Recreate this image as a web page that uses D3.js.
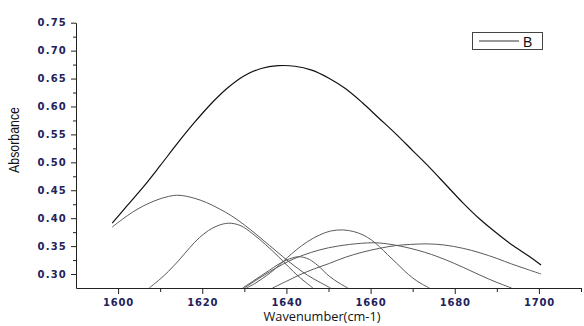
<!DOCTYPE html>
<html><head><meta charset="utf-8">
<script src="https://cdn.jsdelivr.net/npm/d3@7"></script>
<style>html,body{margin:0;padding:0;background:#fff;}svg{display:block;}</style>
</head><body>
<script>
// ---- data ----
const envWn  = [1598.6,1602,1606,1610,1614,1618,1622,1626,1630,1634,1638,1642,1646,1650,1654,1658,1662,1666,1670,1674,1678,1682,1686,1690,1694,1698,1700.5];
const envAbs = [0.391,0.421,0.456,0.494,0.533,0.570,0.604,0.633,0.655,0.668,0.673,0.672,0.665,0.651,0.632,0.607,0.579,0.551,0.521,0.491,0.459,0.427,0.398,0.373,0.350,0.330,0.316];

const c1Wn  = [1598.6,1601,1603.5,1606,1609,1612,1614.5,1618,1621,1624,1627,1630,1633,1636,1639,1642,1645,1648,1650.5];
const c1Abs = [0.384,0.398,0.411,0.422,0.432,0.439,0.441,0.436,0.428,0.417,0.404,0.388,0.370,0.351,0.332,0.314,0.298,0.285,0.275];

const c2Wn  = [1607.4,1610,1612,1614.5,1617,1619.3,1621.5,1623.5,1626.2,1629,1632,1635,1638,1640.5,1643,1646.3];
const c2Abs = [0.275,0.291,0.305,0.325,0.347,0.365,0.378,0.386,0.391,0.387,0.372,0.353,0.332,0.313,0.295,0.275];

const c3Wn  = [1629.6,1632,1634,1636,1638,1640,1641.5,1642.7,1644,1645.5,1647.5,1650.2,1652.5,1654.6];
const c3Abs = [0.275,0.287,0.297,0.307,0.317,0.325,0.329,0.331,0.330,0.326,0.315,0.296,0.284,0.275];

const c4Wn  = [1630.5,1632.5,1634.3,1636.3,1638.3,1640.3,1642.3,1645,1647.9,1650.5,1653.4,1656,1658.2,1660.2,1662.1,1664,1666.1,1668,1670,1672,1674];
const c4Abs = [0.275,0.283,0.292,0.303,0.316,0.330,0.343,0.358,0.370,0.377,0.379,0.376,0.370,0.361,0.349,0.335,0.320,0.306,0.293,0.283,0.275];

const c5Wn  = [1630,1633,1636,1639,1642,1646,1650,1655,1660.6,1664,1667.7,1671,1674.5,1678,1682,1686,1690,1693.5];
const c5Abs = [0.275,0.290,0.304,0.317,0.328,0.339,0.347,0.353,0.356,0.354,0.349,0.343,0.335,0.325,0.312,0.298,0.285,0.275];

const c6Wn  = [1636.7,1640,1643,1646.5,1650.2,1654,1658,1662.1,1666,1669.5,1673.3,1677.5,1682,1686,1690,1693.5,1697,1700.5];
const c6Abs = [0.275,0.287,0.298,0.309,0.319,0.330,0.339,0.346,0.351,0.353,0.354,0.352,0.346,0.338,0.328,0.318,0.309,0.300];

const xTicks = [1600,1620,1640,1660,1680,1700];
const xMinor = [1610,1630,1650,1670,1690,1710];
const yTicks = [0.30,0.35,0.40,0.45,0.50,0.55,0.60,0.65,0.70,0.75];
const yMinor = [0.325,0.375,0.425,0.475,0.525,0.575,0.625,0.675,0.725];
const legendLabel = "B";
const xTitle = "Wavenumber(cm-1)";
const yTitle = "Absorbance";

// ---- drawing ----
const W = 584, H = 326;
const L = 76, R = 581, T = 22.7, B = 288;
const svg = d3.select("body").append("svg").attr("width", W).attr("height", H);

const x = d3.scaleLinear().domain([1590, 1710]).range([L, R]);
const y = d3.scaleLinear().domain([0.275, 0.75]).range([B, T]);

svg.append("defs").append("clipPath").attr("id", "clip")
  .append("rect").attr("x", L).attr("y", T).attr("width", R - L).attr("height", B - T);

const line = d3.line().x(d => x(d[0])).y(d => y(d[1])).curve(d3.curveCatmullRom.alpha(0.5));
const zip = (a, b) => a.map((v, i) => [v, b[i]]);

const g = svg.append("g").attr("clip-path", "url(#clip)");
[[c1Wn,c1Abs],[c2Wn,c2Abs],[c3Wn,c3Abs],[c4Wn,c4Abs],[c5Wn,c5Abs],[c6Wn,c6Abs]].forEach(([a,b]) => {
  g.append("path").attr("d", line(zip(a,b))).attr("fill","none").attr("stroke","#5a5a5a").attr("stroke-width",1);
});
g.append("path").attr("d", line(zip(envWn, envAbs))).attr("fill","none").attr("stroke","#111").attr("stroke-width",1.2);

const txtColor = "#22225a";
const tickFont = "'DejaVu Sans', sans-serif";

// x axis
const xAxis = svg.append("g").attr("transform", `translate(0,${B})`)
  .call(d3.axisBottom(x).tickValues(xTicks).tickSize(6).tickSizeOuter(0).tickFormat(d3.format("d")));
xAxis.select(".domain").attr("stroke", "#222");
xAxis.selectAll(".tick line").attr("stroke", "#222");
xAxis.selectAll("text").attr("fill", txtColor).attr("font-family", tickFont).attr("font-weight","bold")
  .attr("font-size", 10).attr("letter-spacing", "0.8px").attr("dy", "0.85em");
const xAxisMinor = svg.append("g").attr("transform", `translate(0,${B})`)
  .call(d3.axisBottom(x).tickValues(xMinor).tickSize(4).tickSizeOuter(0).tickFormat(""));
xAxisMinor.select(".domain").remove();
xAxisMinor.selectAll(".tick line").attr("stroke", "#222");

// y axis
const yAxis = svg.append("g").attr("transform", `translate(${L},0)`)
  .call(d3.axisLeft(y).tickValues(yTicks).tickSize(5).tickSizeOuter(0).tickFormat(d3.format(".2f")));
yAxis.select(".domain").attr("stroke", "#222");
yAxis.selectAll(".tick line").attr("stroke", "#222");
yAxis.selectAll("text").attr("fill", txtColor).attr("font-family", tickFont).attr("font-weight","bold")
  .attr("font-size", 10).attr("letter-spacing", "1.2px").attr("x", -9);
const yAxisMinor = svg.append("g").attr("transform", `translate(${L},0)`)
  .call(d3.axisLeft(y).tickValues(yMinor).tickSize(3).tickSizeOuter(0).tickFormat(""));
yAxisMinor.select(".domain").remove();
yAxisMinor.selectAll(".tick line").attr("stroke", "#222");

// titles
svg.append("text").attr("x", 322).attr("y", 321).attr("text-anchor","middle")
  .attr("font-family","'Open Sans', sans-serif").attr("font-size",13).attr("fill","#111")
  .attr("textLength",117).attr("lengthAdjust","spacingAndGlyphs").text(xTitle);
svg.append("text").attr("transform","translate(19,140) rotate(-90)").attr("text-anchor","middle")
  .attr("font-family","'Liberation Sans Narrow','Liberation Sans', sans-serif").attr("font-size",14).attr("fill","#111")
  .attr("textLength",66).attr("lengthAdjust","spacingAndGlyphs").text(yTitle);

// legend
const lg = svg.append("g");
lg.append("rect").attr("x",472.5).attr("y",32.5).attr("width",70).attr("height",17)
  .attr("fill","#fff").attr("stroke","#444").attr("stroke-width",1);
lg.append("line").attr("x1",479).attr("x2",519).attr("y1",41).attr("y2",41).attr("stroke","#333").attr("stroke-width",1);
lg.append("text").attr("x",523).attr("y",46.5).attr("font-family","'Liberation Sans', Arial, sans-serif")
  .attr("font-size",14).attr("fill","#111").text(legendLabel);
</script>
</body></html>
